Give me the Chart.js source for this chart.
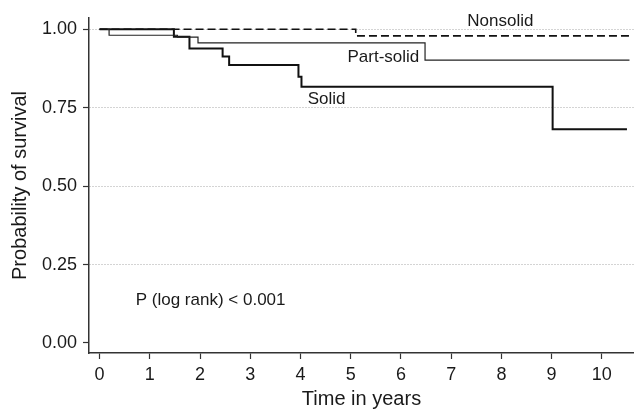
<!DOCTYPE html>
<html>
<head>
    <title>Survival by nodule type</title>
    <script src="https://cdn.jsdelivr.net/npm/chart.js"></script>
    <style>
        body { margin: 0; background: #fff; }
    </style>
</head>
<body>
    <canvas id="kmChart" width="634" height="410"></canvas>
    <script>
        // Kaplan-Meier steps: time (years) and survival after each step
        const solidTimes = [0, 1.48, 1.79, 2.45, 2.58, 3.96, 4.02, 9.02, 10.5];
        const solidSurv  = [1.0, 0.976, 0.939, 0.913, 0.886, 0.849, 0.817, 0.681, 0.681];

        const partSolidTimes = [0, 0.19, 1.55, 1.96, 6.48, 10.55];
        const partSolidSurv  = [1.0, 0.981, 0.975, 0.957, 0.902, 0.902];

        const nonsolidTimes = [0, 5.1, 10.6];
        const nonsolidSurv  = [1.0, 0.979, 0.979];

        const xTicks = [0, 1, 2, 3, 4, 5, 6, 7, 8, 9, 10];
        const yTicks = [0, 0.25, 0.5, 0.75, 1.0];

        const labels = [
            { text: 'Nonsolid', x: 7.98, y: 1.025, align: 'center' },
            { text: 'Part-solid', x: 5.65, y: 0.91, align: 'center' },
            { text: 'Solid', x: 4.52, y: 0.777, align: 'center' },
            { text: 'P (log rank) < 0.001', x: 0.72, y: 0.137, align: 'left' }
        ];

        const toPoints = (times, surv) => times.map((t, i) => ({ x: t, y: surv[i] }));

        const textPlugin = {
            id: 'curveLabels',
            afterDraw(chart) {
                const ctx = chart.ctx;
                const xs = chart.scales.x, ys = chart.scales.y;
                ctx.save();
                ctx.fillStyle = '#1a1a1a';
                ctx.font = '17px "Liberation Sans", Arial, sans-serif';
                ctx.textBaseline = 'middle';
                labels.forEach(l => {
                    ctx.textAlign = l.align;
                    ctx.fillText(l.text, xs.getPixelForValue(l.x), ys.getPixelForValue(l.y));
                });
                ctx.restore();
            }
        };

        const ctx = document.getElementById('kmChart').getContext('2d');
        new Chart(ctx, {
            type: 'line',
            data: {
                datasets: [
                    {
                        label: 'Nonsolid',
                        data: toPoints(nonsolidTimes, nonsolidSurv),
                        borderColor: '#111',
                        borderWidth: 1.6,
                        borderDash: [8, 4],
                        stepped: true,
                        pointRadius: 0,
                        fill: false
                    },
                    {
                        label: 'Part-solid',
                        data: toPoints(partSolidTimes, partSolidSurv),
                        borderColor: '#222',
                        borderWidth: 1.2,
                        stepped: true,
                        pointRadius: 0,
                        fill: false
                    },
                    {
                        label: 'Solid',
                        data: toPoints(solidTimes, solidSurv),
                        borderColor: '#111',
                        borderWidth: 2,
                        stepped: true,
                        pointRadius: 0,
                        fill: false
                    }
                ]
            },
            options: {
                responsive: false,
                animation: false,
                layout: { padding: { top: 18, right: 0, left: 0, bottom: 0 } },
                plugins: {
                    legend: { display: false },
                    tooltip: { enabled: false }
                },
                scales: {
                    x: {
                        type: 'linear',
                        min: -0.21,
                        max: 10.64,
                        afterBuildTicks: s => { s.ticks = xTicks.map(v => ({ value: v })); },
                        afterFit: s => { s.height = 57; },
                        border: { display: true, color: '#333', width: 1.5 },
                        grid: {
                            drawOnChartArea: false,
                            drawTicks: true,
                            tickLength: 6,
                            tickColor: '#333',
                            tickWidth: 1.2
                        },
                        ticks: {
                            color: '#1a1a1a',
                            padding: 5,
                            maxRotation: 0,
                            font: { family: '"Liberation Sans", Arial, sans-serif', size: 18 }
                        },
                        title: {
                            display: true,
                            text: 'Time in years',
                            color: '#1a1a1a',
                            padding: { top: 0, bottom: 1 },
                            font: { family: '"Liberation Sans", Arial, sans-serif', size: 20, lineHeight: 1 }
                        }
                    },
                    y: {
                        min: -0.032,
                        max: 1.036,
                        afterBuildTicks: s => { s.ticks = yTicks.map(v => ({ value: v })); },
                        afterFit: s => { s.width = 89; },
                        border: { display: true, color: '#333', width: 1.5, dash: [1, 2] },
                        grid: {
                            color: c => (c.tick && c.tick.value === 0) ? 'rgba(0,0,0,0)' : '#a8a8a8',
                            lineWidth: 1,
                            drawTicks: true,
                            tickLength: 6,
                            tickColor: '#333',
                            tickWidth: 1.2,
                            tickBorderDash: []
                        },
                        ticks: {
                            color: '#1a1a1a',
                            padding: 6,
                            callback: v => v.toFixed(2),
                            font: { family: '"Liberation Sans", Arial, sans-serif', size: 18 }
                        },
                        title: {
                            display: true,
                            text: 'Probability of survival',
                            color: '#1a1a1a',
                            padding: { top: 10, bottom: 0 },
                            font: { family: '"Liberation Sans", Arial, sans-serif', size: 20, lineHeight: 1 }
                        }
                    }
                }
            },
            plugins: [textPlugin]
        });
    </script>
</body>
</html>
